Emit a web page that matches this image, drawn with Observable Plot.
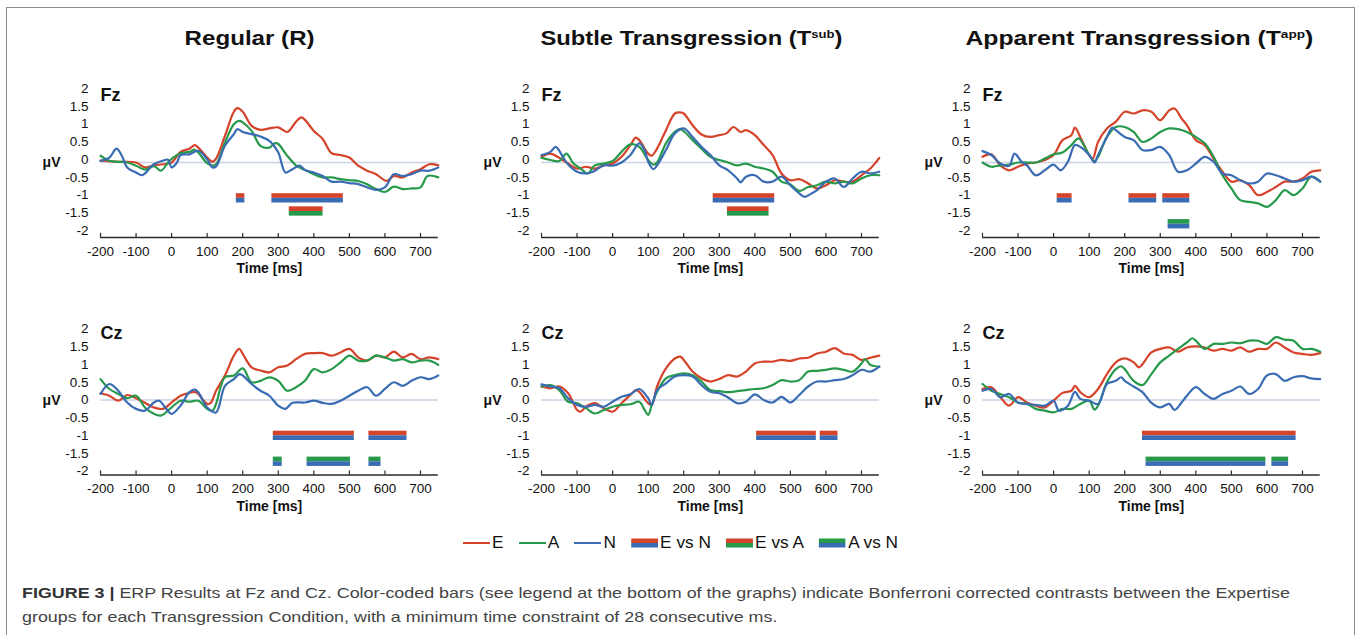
<!DOCTYPE html>
<html>
<head>
<meta charset="utf-8">
<script src="https://cdn.jsdelivr.net/npm/d3@7"></script>
<script src="https://cdn.jsdelivr.net/npm/@observablehq/plot@0.6"></script>
<style>
  html, body { margin: 0; padding: 0; background: #fff; }
  body { width: 1357px; height: 635px; position: relative; overflow: hidden;
         font-family: "Liberation Sans", Arial, Helvetica, sans-serif; }
  #frame { position: absolute; left: 6px; top: 7px; width: 1349px; height: 700px;
           border: 1.5px solid #8c8c8c; box-sizing: border-box; }
  .title { position: absolute; font-weight: bold; font-size: 21px; color: #111;
           white-space: nowrap; transform-origin: center center; }
  .title sup { font-size: 0.55em; vertical-align: 0.65em; line-height: 0; }
  .panel { position: absolute; }
  #legend { position: absolute; left: 463px; top: 543px; display: flex; align-items: center;
            gap: 14px; white-space: nowrap; transform-origin: left center; font-size: 16px; color: #111; }
  #legend .item { display: flex; align-items: center; gap: 2px; }
  #caption { position: absolute; left: 22px; top: 581px; font-size: 14.5px; line-height: 24px;
             color: #444; white-space: nowrap; transform-origin: left top; }
  #caption b { color: #333; }
</style>
</head>
<body>
<div id="frame"></div>
<div id="titles"></div>
<div id="panels"></div>
<div id="legend"></div>
<div id="caption"><span id="cap1"><b>FIGURE 3 |</b> ERP Results at Fz and Cz. Color-coded bars (see legend at the bottom of the graphs) indicate Bonferroni corrected contrasts between the Expertise</span><br><span>groups for each Transgression Condition, with a minimum time constraint of 28 consecutive ms.</span></div>
<script>
// ---------- categories / labels ----------
const groups = ["E", "A", "N"];
const groupColors = ["#d5432b", "#27994b", "#3a6cb3"];
const contrasts = ["E vs N", "E vs A", "A vs N"];
const contrastTop = ["E", "E", "A"];
const contrastBottom = ["N", "A", "N"];
const conditionTitles = ["Regular (R)", "Subtle Transgression (T<sup>sub</sup>)", "Apparent Transgression (T<sup>app</sup>)"];
const sites = ["Fz", "Cz"];
const xTicks = [-200, -100, 0, 100, 200, 300, 400, 500, 600, 700];
const yTicks = [-2, -1.5, -1, -0.5, 0, 0.5, 1, 1.5, 2];
const xLabel = "Time [ms]";
const yLabel = "μV";

// ---------- waveforms: [time ms, amplitude μV] ----------
const R_Fz_E = [[-200,0.05],[-150,0.02],[-100,0],[-75,-0.14],[-50,-0.08],[-25,-0.05],[0,0],[25,0.3],[50,0.39],[65,0.49],[75,0.42],[100,0.14],[115,0.02],[125,0.11],[150,0.75],[175,1.43],[185,1.53],[200,1.43],[225,1.03],[250,0.92],[275,0.96],[300,0.99],[325,0.86],[350,1.15],[365,1.27],[375,1.2],[400,0.89],[425,0.66],[450,0.26],[475,0.21],[500,0.14],[525,-0.09],[550,-0.23],[575,-0.33],[605,-0.52],[625,-0.38],[650,-0.42],[675,-0.28],[700,-0.19],[725,-0.05],[750,-0.08]];
const R_Fz_A = [[-200,0.19],[-175,0.05],[-150,0.02],[-125,0],[-100,-0.09],[-75,-0.2],[-50,-0.1],[-30,-0.23],[-10,0],[0,0.1],[25,0.26],[50,0.3],[65,0.36],[75,0.28],[100,-0.02],[115,-0.09],[125,-0.05],[150,0.56],[175,1.08],[190,1.17],[200,1.13],[225,0.89],[250,0.47],[275,0.42],[290,0.54],[300,0.52],[325,0.19],[350,-0.08],[375,-0.21],[400,-0.33],[425,-0.42],[450,-0.42],[475,-0.47],[500,-0.5],[525,-0.52],[550,-0.61],[575,-0.75],[600,-0.83],[625,-0.68],[650,-0.75],[675,-0.73],[700,-0.7],[720,-0.38],[750,-0.42]];
const R_Fz_N = [[-200,0.05],[-175,0.14],[-155,0.39],[-140,0.19],[-125,-0.14],[-100,-0.28],[-85,-0.36],[-75,-0.31],[-50,-0.05],[-25,0.05],[-10,0.08],[0,-0.14],[15,0],[25,0.21],[50,0.23],[75,0.33],[100,0.09],[115,-0.14],[125,-0.11],[150,0.47],[175,0.8],[185,0.94],[200,0.86],[225,0.8],[250,0.73],[275,0.61],[300,0.28],[320,-0.28],[340,-0.19],[360,-0.09],[375,-0.21],[400,-0.28],[425,-0.38],[450,-0.54],[475,-0.54],[500,-0.58],[525,-0.61],[550,-0.7],[575,-0.77],[600,-0.7],[625,-0.33],[650,-0.38],[675,-0.33],[700,-0.23],[725,-0.23],[750,-0.14]];

const S_Fz_E = [[-200,0.16],[-175,0.25],[-150,0.13],[-125,-0.03],[-100,-0.17],[-75,-0.12],[-50,-0.17],[-25,-0.08],[0,-0.03],[25,0.16],[50,0.49],[65,0.7],[75,0.63],[100,0.25],[110,0.19],[125,0.39],[150,0.91],[175,1.38],[190,1.41],[200,1.38],[225,1.05],[250,0.79],[275,0.72],[300,0.77],[320,0.82],[340,1.0],[360,0.86],[375,0.91],[400,0.77],[425,0.49],[450,0.21],[475,-0.31],[500,-0.5],[525,-0.47],[550,-0.59],[575,-0.73],[600,-0.64],[625,-0.5],[650,-0.54],[675,-0.54],[700,-0.36],[725,-0.17],[750,0.13]];
const S_Fz_A = [[-200,0.13],[-175,0.07],[-150,0.04],[-130,0.25],[-110,-0.03],[-90,-0.17],[-70,-0.31],[-50,-0.08],[-25,-0.03],[0,0.04],[10,0.13],[25,0.3],[50,0.51],[75,0.44],[100,0.07],[115,-0.06],[125,0],[150,0.54],[175,0.86],[190,0.94],[200,0.88],[225,0.63],[250,0.39],[275,0.16],[300,0.07],[325,0],[350,-0.08],[375,-0.03],[400,-0.12],[425,-0.17],[450,-0.26],[475,-0.54],[500,-0.62],[525,-0.8],[550,-0.69],[575,-0.64],[600,-0.54],[625,-0.59],[650,-0.54],[675,-0.59],[700,-0.45],[725,-0.36],[750,-0.36]];
const S_Fz_N = [[-200,0.21],[-175,0.3],[-160,0.44],[-140,0.16],[-125,-0.06],[-100,-0.26],[-75,-0.31],[-55,-0.26],[-25,-0.08],[0,-0.09],[25,0],[50,0.21],[75,0.54],[90,0.35],[100,0.02],[115,-0.19],[125,-0.08],[150,0.35],[175,0.82],[200,0.96],[225,0.72],[250,0.44],[275,0.21],[300,-0.08],[325,-0.22],[350,-0.45],[360,-0.56],[375,-0.4],[400,-0.36],[425,-0.54],[450,-0.54],[475,-0.4],[500,-0.64],[525,-0.87],[540,-0.97],[560,-0.87],[575,-0.78],[600,-0.54],[625,-0.45],[650,-0.69],[675,-0.45],[700,-0.26],[725,-0.31],[750,-0.26]];

const A_Fz_E = [[-200,0.16],[-175,0.23],[-150,-0.08],[-125,-0.22],[-100,-0.12],[-75,-0.03],[-50,0],[-25,0.07],[0,0.21],[25,0.63],[50,0.77],[60,0.98],[75,0.72],[100,0.21],[110,0.11],[125,0.58],[150,0.96],[175,1.15],[200,1.43],[225,1.38],[250,1.47],[275,1.43],[300,1.19],[325,1.47],[340,1.52],[360,1.24],[375,1.05],[400,0.63],[425,0.49],[450,0.11],[475,-0.26],[500,-0.54],[525,-0.5],[550,-0.64],[575,-0.92],[600,-0.83],[625,-0.69],[650,-0.54],[675,-0.54],[700,-0.45],[725,-0.26],[750,-0.22]];
const A_Fz_A = [[-200,0],[-175,-0.12],[-150,-0.08],[-125,-0.06],[-100,0],[-75,0],[-50,0],[-25,0.11],[0,0.23],[25,0.28],[50,0.49],[70,0.68],[85,0.49],[100,0.21],[115,0.04],[125,0.16],[150,0.72],[175,1.0],[200,1.0],[225,0.86],[250,0.58],[275,0.68],[300,0.86],[325,0.96],[350,0.94],[375,0.86],[400,0.72],[425,0.54],[450,0.16],[475,-0.36],[500,-0.73],[525,-1.06],[550,-1.11],[575,-1.15],[600,-1.25],[625,-1.06],[650,-0.78],[675,-0.92],[700,-0.73],[725,-0.4],[750,-0.54]];
const A_Fz_N = [[-200,0.32],[-175,0.21],[-150,-0.03],[-125,-0.09],[-110,0.25],[-90,0.02],[-75,-0.08],[-50,-0.36],[-25,-0.22],[0,-0.06],[20,-0.22],[40,0.02],[60,0.49],[75,0.44],[100,0.21],[115,0],[125,0.21],[150,0.72],[165,0.98],[175,0.91],[200,0.72],[225,0.63],[250,0.35],[275,0.35],[300,0.44],[325,0.21],[350,-0.26],[375,-0.22],[400,-0.03],[425,0.16],[450,0.02],[475,-0.31],[500,-0.36],[525,-0.5],[550,-0.59],[575,-0.54],[600,-0.31],[625,-0.36],[650,-0.45],[675,-0.54],[700,-0.5],[725,-0.4],[750,-0.54]];

const R_Cz_E = [[-200,0.19],[-175,0.12],[-150,-0.02],[-125,0.14],[-100,0.05],[-75,-0.08],[-50,-0.21],[-25,-0.25],[0,-0.07],[25,0.12],[50,0.2],[65,0.23],[75,0.17],[100,-0.11],[110,-0.08],[125,0.26],[150,0.69],[175,1.25],[190,1.44],[200,1.3],[225,0.92],[250,0.83],[275,0.78],[300,0.92],[325,0.97],[350,1.15],[375,1.3],[400,1.32],[425,1.32],[450,1.25],[475,1.34],[500,1.44],[525,1.2],[550,1.11],[575,1.25],[600,1.2],[625,1.36],[650,1.2],[675,1.3],[700,1.15],[725,1.2],[750,1.15]];
const R_Cz_A = [[-200,0.59],[-175,0.31],[-150,0.17],[-125,0.05],[-100,0.12],[-75,-0.21],[-50,-0.39],[-30,-0.44],[0,-0.21],[25,-0.02],[50,-0.05],[75,-0.02],[100,-0.25],[115,-0.3],[125,-0.11],[150,0.64],[175,0.69],[200,0.89],[225,0.5],[250,0.54],[275,0.64],[300,0.54],[325,0.26],[350,0.36],[375,0.54],[400,0.87],[425,0.78],[450,0.87],[475,1.06],[500,1.25],[525,1.11],[550,1.11],[575,1.25],[600,1.2],[625,1.11],[650,1.15],[675,1.06],[700,1.11],[725,1.11],[750,0.99]];
const R_Cz_N = [[-200,0.17],[-175,0.45],[-150,0.26],[-125,-0.07],[-100,-0.25],[-75,-0.3],[-50,-0.07],[-35,-0.02],[-15,-0.25],[0,-0.39],[25,-0.16],[50,0.22],[65,0.29],[75,0.22],[100,-0.21],[125,-0.35],[150,0.4],[175,0.59],[190,0.73],[200,0.69],[225,0.45],[250,0.26],[275,0.12],[300,-0.16],[320,-0.25],[340,-0.08],[375,-0.07],[400,-0.02],[425,-0.08],[450,-0.11],[475,-0.02],[500,0.12],[525,0.26],[550,0.36],[575,0.12],[600,0.31],[625,0.5],[650,0.4],[675,0.54],[700,0.64],[725,0.59],[750,0.69]];

const S_Cz_E = [[-200,0.38],[-175,0.33],[-150,0.38],[-125,0.19],[-100,-0.28],[-90,-0.33],[-75,-0.19],[-50,-0.09],[-25,-0.23],[0,-0.33],[25,-0.09],[50,0.14],[65,0.28],[75,0.23],[100,-0.09],[110,-0.14],[125,0.38],[150,0.89],[175,1.17],[190,1.22],[200,1.13],[225,0.8],[250,0.61],[275,0.52],[300,0.59],[325,0.7],[350,0.66],[375,0.8],[400,1.03],[425,1.08],[450,1.08],[475,1.13],[500,1.1],[525,1.17],[550,1.19],[575,1.31],[600,1.36],[625,1.46],[650,1.31],[675,1.27],[700,1.13],[725,1.19],[750,1.25]];
const S_Cz_A = [[-200,0.38],[-175,0.42],[-150,0.28],[-125,-0.05],[-100,-0.09],[-75,-0.23],[-50,-0.38],[-25,-0.28],[0,-0.19],[25,-0.14],[50,-0.12],[75,-0.05],[90,-0.28],[100,-0.42],[110,-0.14],[125,0.23],[150,0.61],[175,0.7],[200,0.75],[225,0.7],[250,0.52],[275,0.28],[300,0.25],[325,0.22],[350,0.25],[375,0.28],[400,0.31],[425,0.33],[450,0.42],[475,0.56],[500,0.52],[525,0.56],[550,0.8],[575,0.82],[600,0.85],[625,0.89],[650,0.85],[675,0.8],[700,1.03],[710,1.15],[725,0.99],[750,0.94]];
const S_Cz_N = [[-200,0.44],[-175,0.38],[-150,0.33],[-125,0.05],[-100,-0.14],[-75,-0.19],[-50,-0.14],[-25,-0.19],[0,-0.05],[25,0.09],[50,0.16],[75,0.31],[100,0.05],[110,-0.14],[125,0.28],[150,0.47],[175,0.66],[200,0.7],[225,0.66],[250,0.42],[275,0.23],[300,0.19],[325,0.07],[350,-0.09],[375,-0.05],[400,0.16],[425,0],[450,-0.07],[475,0.09],[500,-0.07],[525,0.14],[550,0.38],[575,0.52],[600,0.52],[625,0.56],[650,0.59],[675,0.7],[700,0.85],[725,0.8],[750,0.94]];

const A_Cz_E = [[-200,0.31],[-175,0.36],[-150,0.08],[-125,-0.16],[-100,0.08],[-75,-0.07],[-50,-0.16],[-25,-0.21],[0,-0.02],[25,0.2],[50,0.26],[60,0.4],[75,0.22],[100,0.08],[125,0.31],[150,0.73],[175,1.06],[200,1.17],[225,1.06],[240,0.92],[250,1.01],[275,1.34],[300,1.44],[325,1.48],[350,1.36],[375,1.48],[400,1.51],[425,1.48],[450,1.39],[475,1.44],[500,1.39],[525,1.48],[550,1.36],[575,1.44],[600,1.44],[625,1.62],[650,1.48],[675,1.34],[700,1.3],[725,1.27],[750,1.32]];
const A_Cz_A = [[-200,0.45],[-175,0.26],[-150,0.17],[-125,0.08],[-100,-0.07],[-75,-0.11],[-50,-0.25],[-25,-0.3],[0,-0.35],[25,-0.25],[50,-0.25],[75,-0.11],[100,-0.02],[115,-0.27],[125,-0.16],[150,0.5],[175,0.87],[190,0.95],[200,0.87],[225,0.54],[250,0.42],[275,0.73],[300,1.06],[325,1.25],[350,1.44],[375,1.62],[390,1.74],[400,1.67],[425,1.44],[450,1.58],[475,1.58],[500,1.62],[525,1.6],[550,1.67],[575,1.67],[600,1.58],[625,1.77],[650,1.7],[675,1.67],[700,1.44],[725,1.44],[750,1.36]];
const A_Cz_N = [[-200,0.26],[-175,0.31],[-150,0.08],[-125,0.17],[-100,-0.08],[-75,-0.11],[-50,-0.14],[-25,-0.16],[0,-0.02],[15,-0.3],[40,-0.16],[60,0.23],[75,0.03],[100,-0.02],[125,-0.11],[150,0.45],[175,0.54],[190,0.64],[200,0.54],[225,0.38],[250,0.22],[275,-0.08],[300,-0.21],[325,-0.11],[340,-0.28],[360,-0.07],[375,0.12],[400,0.36],[425,0.17],[450,0.03],[475,0.17],[500,0.26],[525,0.38],[550,0.17],[575,0.31],[600,0.69],[625,0.73],[650,0.54],[675,0.64],[700,0.67],[725,0.61],[750,0.59]];

// ---------- significance bars: [contrast, start ms, end ms, row level μV] ----------
const R_Fz_sig = [["E vs N",182,206,-1.01],["E vs N",282,483,-1.01],["E vs A",331,426,-1.38]];
const S_Fz_sig = [["E vs N",283,456,-1.01],["E vs A",323,440,-1.38]];
const A_Fz_sig = [["E vs N",10,52,-1.01],["E vs N",212,290,-1.01],["E vs N",307,383,-1.01],["A vs N",322,383,-1.74]];
const R_Cz_sig = [["E vs N",286,514,-1.01],["E vs N",555,662,-1.01],["A vs N",286,311,-1.74],["A vs N",381,503,-1.74],["A vs N",555,589,-1.74]];
const S_Cz_sig = [["E vs N",405,573,-1.01],["E vs N",584,634,-1.01]];
const A_Cz_sig = [["E vs N",250,682,-1.01],["A vs N",260,597,-1.74],["A vs N",614,661,-1.74]];

// ---------- assemble panels ----------
const panelWaves = [
  [[R_Fz_E, R_Fz_A, R_Fz_N], [S_Fz_E, S_Fz_A, S_Fz_N], [A_Fz_E, A_Fz_A, A_Fz_N]],
  [[R_Cz_E, R_Cz_A, R_Cz_N], [S_Cz_E, S_Cz_A, S_Cz_N], [A_Cz_E, A_Cz_A, A_Cz_N]]
];
const panelSig = [[R_Fz_sig, S_Fz_sig, A_Fz_sig], [R_Cz_sig, S_Cz_sig, A_Cz_sig]];

// layout (pixels)
const pxPerMs = 320 / 900, pxPerUnit = 35.5;
const yMin = -2.11, yMax = 2.1;
const svgLefts = [30, 471, 912];
const x0s = [100, 541, 982];
const rowTops = [75, 313];
const zeroYs = [162, 399.5];
const W = 420;
const stripH = 0.131;

const fontFamily = '"Liberation Sans", Arial, Helvetica, sans-serif';

function makePanel(si, ci) {
  const marginLeft = x0s[ci] - svgLefts[ci];
  const plotW = 950 * pxPerMs;
  const marginRight = W - marginLeft - plotW;
  const plotTopAbs = zeroYs[si] - yMax * pxPerUnit;
  const marginTop = plotTopAbs - rowTops[si];
  const plotH = (yMax - yMin) * pxPerUnit;
  const marginBottom = 46;
  const H = marginTop + plotH + marginBottom;

  const lines = [];
  panelWaves[si][ci].forEach((arr, gi) => {
    for (const [t, v] of arr) lines.push({group: groups[gi], t, v});
  });
  const strips = [];
  for (const [c, s, e, lvl] of panelSig[si][ci]) {
    const k = contrasts.indexOf(c);
    strips.push({group: contrastTop[k], s, e, y1: lvl, y2: lvl + stripH});
    strips.push({group: contrastBottom[k], s, e, y1: lvl - stripH, y2: lvl});
  }
  const yDy = si === 0 ? -3 : 0;

  const chart = Plot.plot({
    width: W, height: H,
    marginLeft, marginRight, marginTop, marginBottom,
    style: {fontFamily, fontSize: "13px", color: "#111", background: "transparent", overflow: "visible"},
    x: {domain: [-200, 750]},
    y: {domain: [yMin, yMax]},
    color: {domain: groups, range: groupColors},
    marks: [
      Plot.ruleY([0], {stroke: "#c9d3e6", strokeWidth: 1.3}),
      Plot.ruleY([yMin], {stroke: "#2a2a2a", strokeWidth: 1.5}),
      Plot.ruleX(xTicks, {x: d => d, y1: yMin, y2: yMin + 4 / pxPerUnit, stroke: "#2a2a2a", strokeWidth: 1.2}),
      Plot.axisX(xTicks, {tickSize: 0, tickPadding: 9, tickFormat: d => String(d), fontSize: 13.5, label: null}),
      Plot.axisY(yTicks, {tickSize: 0, tickPadding: 12, tickFormat: d => String(d), fontSize: 13.5, dy: yDy, label: null}),
      Plot.rect(strips, {x1: "s", x2: "e", y1: "y1", y2: "y2", fill: "group"}),
      Plot.line(lines, {x: "t", y: "v", z: "group", stroke: "group", strokeWidth: 2.2, curve: "catmull-rom"}),
      Plot.text([sites[si]], {text: d => d, frameAnchor: "top-left", dy: 7.5, textAnchor: "start", lineAnchor: "middle", fontSize: 18, fontWeight: "bold", fill: "#111"}),
      Plot.text([yLabel], {text: d => d, frameAnchor: "left", dx: -40, textAnchor: "end", lineAnchor: "middle", fontSize: 14, fontWeight: "bold", fill: "#111"}),
      Plot.text([xLabel], {text: d => d, frameAnchor: "bottom", dy: 31.5, lineAnchor: "middle", fontSize: 14, fontWeight: "bold", fill: "#111"})
    ]
  });
  const div = document.createElement("div");
  div.className = "panel";
  div.style.left = svgLefts[ci] + "px";
  div.style.top = rowTops[si] + "px";
  div.appendChild(chart);
  document.getElementById("panels").appendChild(div);
}

for (let si = 0; si < 2; si++) for (let ci = 0; ci < 3; ci++) makePanel(si, ci);

// ---------- titles ----------
const titleCenters = [250, 691, 1139];
const titleWidths = [130, 302, 348];
conditionTitles.forEach((t, i) => {
  const d = document.createElement("div");
  d.className = "title";
  d.innerHTML = t;
  d.style.left = "0px"; d.style.top = "0px";
  document.getElementById("titles").appendChild(d);
  const w = d.getBoundingClientRect().width, h = d.getBoundingClientRect().height;
  const s = titleWidths[i] / w;
  d.style.left = (titleCenters[i] - w / 2) + "px";
  d.style.top = (38 - h / 2) + "px";
  d.style.transform = `scaleX(${s})`;
});

// ---------- legend ----------
const legend = document.getElementById("legend");
const NS = "http://www.w3.org/2000/svg";
groups.forEach((g, i) => {
  const item = document.createElement("div"); item.className = "item";
  const sv = document.createElementNS(NS, "svg"); sv.setAttribute("width", 25); sv.setAttribute("height", 10);
  const ln = document.createElementNS(NS, "line");
  ln.setAttribute("x1", 0); ln.setAttribute("x2", 25); ln.setAttribute("y1", 5); ln.setAttribute("y2", 5);
  ln.setAttribute("stroke", groupColors[i]); ln.setAttribute("stroke-width", 2);
  sv.appendChild(ln); item.appendChild(sv);
  const tx = document.createElement("span"); tx.textContent = g; item.appendChild(tx);
  legend.appendChild(item);
});
contrasts.forEach((c, k) => {
  const item = document.createElement("div"); item.className = "item";
  const sv = document.createElementNS(NS, "svg"); sv.setAttribute("width", 25); sv.setAttribute("height", 10);
  const r1 = document.createElementNS(NS, "rect");
  r1.setAttribute("x", 0); r1.setAttribute("y", 0.5); r1.setAttribute("width", 25); r1.setAttribute("height", 4.5);
  r1.setAttribute("fill", groupColors[groups.indexOf(contrastTop[k])]);
  const r2 = document.createElementNS(NS, "rect");
  r2.setAttribute("x", 0); r2.setAttribute("y", 5); r2.setAttribute("width", 25); r2.setAttribute("height", 4.5);
  r2.setAttribute("fill", groupColors[groups.indexOf(contrastBottom[k])]);
  sv.appendChild(r1); sv.appendChild(r2); item.appendChild(sv);
  const tx = document.createElement("span"); tx.textContent = c; item.appendChild(tx);
  legend.appendChild(item);
});
{
  const r = legend.getBoundingClientRect();
  legend.style.top = (543 - r.height / 2) + "px";
  legend.style.transform = `scaleX(${435 / r.width})`;
}

// ---------- caption ----------
{
  const cap = document.getElementById("caption");
  const w1 = document.getElementById("cap1").getBoundingClientRect().width;
  cap.style.transform = `scaleX(${1268 / w1})`;
}
</script>
</body>
</html>
